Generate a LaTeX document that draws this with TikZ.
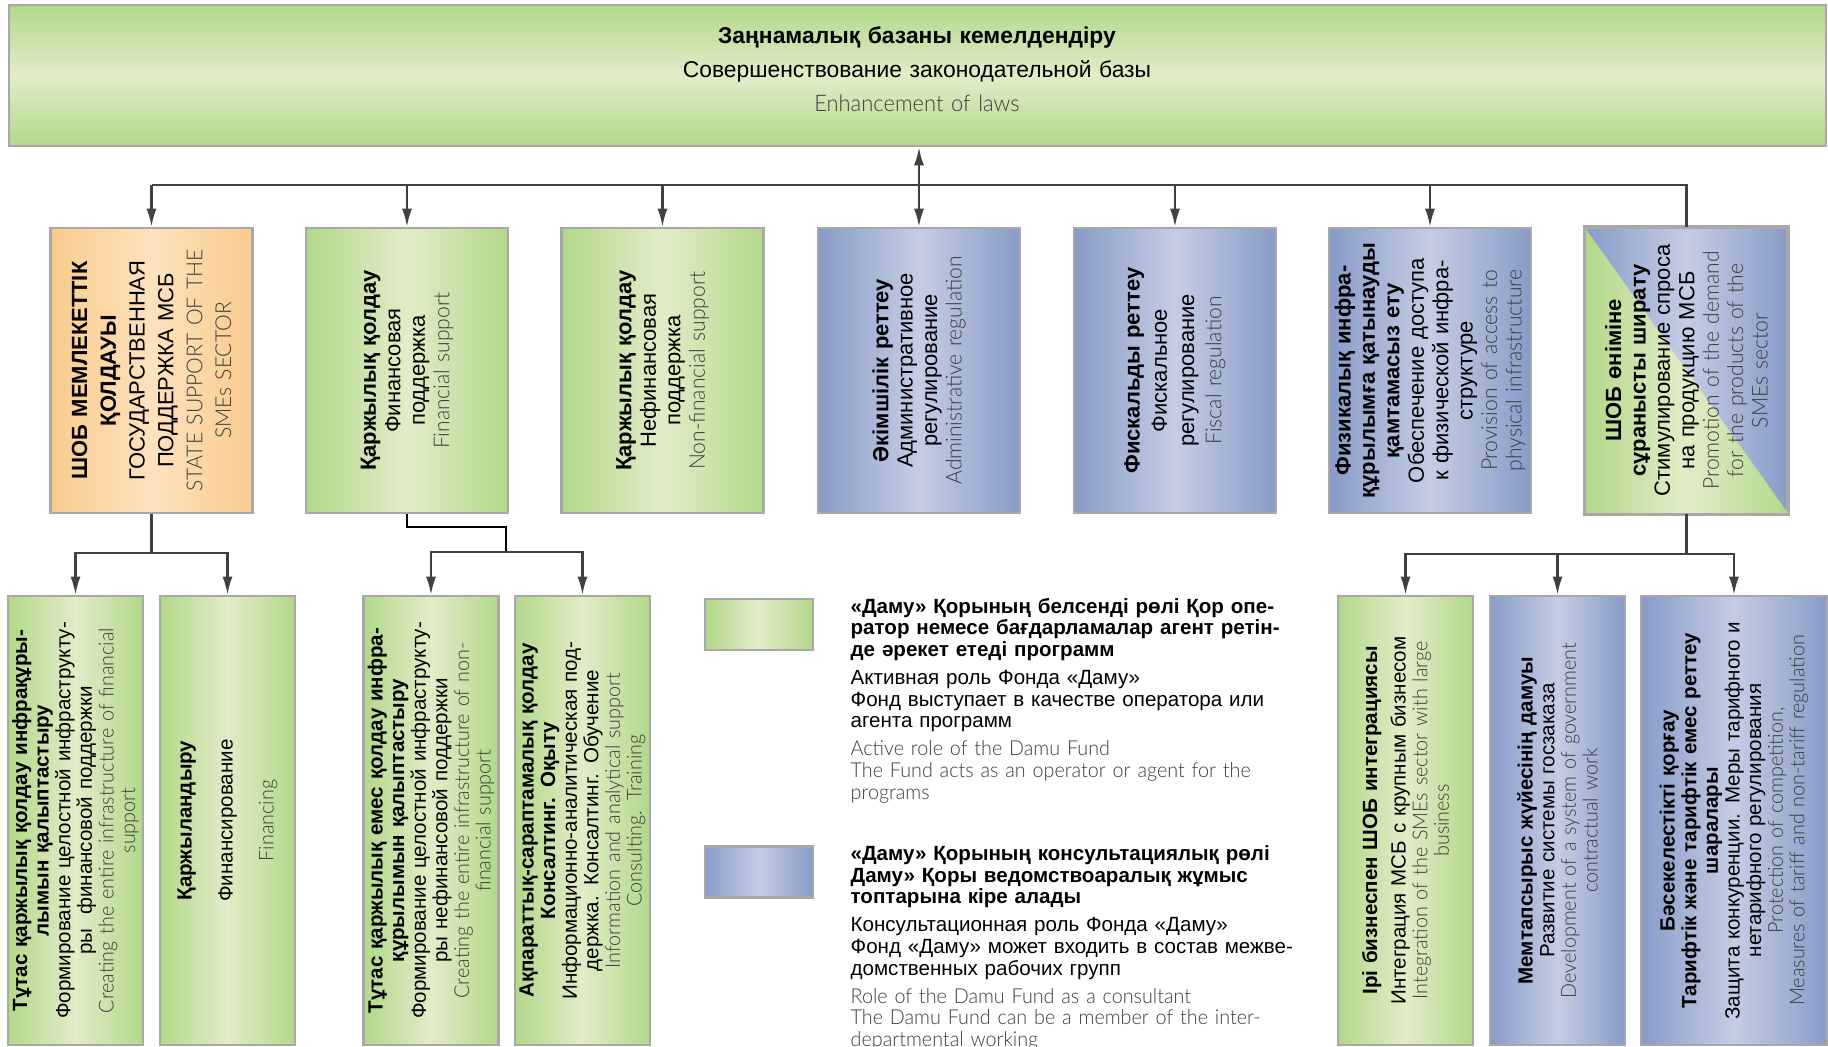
\documentclass[tikz,border=0pt]{standalone}
\usepackage{fontspec}
\setmainfont{Liberation Sans}
\IfFontExistsTF{Lato Light}
  {\newfontfamily\lightfont{Lato Light}[FakeStretch=0.96]}
  {\newfontfamily\lightfont{Liberation Sans}[FakeStretch=0.9]}
\usetikzlibrary{arrows.meta,positioning}

\definecolor{greenE}{RGB}{178,216,138}
\definecolor{greenM}{RGB}{226,236,200}
\definecolor{blueE}{RGB}{136,155,200}
\definecolor{blueM}{RGB}{197,205,228}
\definecolor{orangeE}{RGB}{249,203,140}
\definecolor{orangeM}{RGB}{253,226,190}
\definecolor{frame}{RGB}{168,168,168}
\definecolor{wirecol}{RGB}{64,64,64}
\definecolor{engtext}{RGB}{60,60,60}

\newcommand\ru{\mdseries\color{black}}
\newcommand\eng{\lightfont\mdseries\color{engtext}}

\tikzset{
  box/.style={draw=frame, line width=1.5pt, inner sep=0pt},
  greenbox/.style={box, left color=greenE, right color=greenE, middle color=greenM},
  bluebox/.style={box, left color=blueE, right color=blueE, middle color=blueM},
  orangebox/.style={box, left color=orangeE, right color=orangeE, middle color=orangeM},
  topbox/.style={minimum width=4.04cm, minimum height=5.7cm},
  lowbox/.style={minimum width=2.7cm, minimum height=8.98cm},
  legbox/.style={minimum width=2.16cm, minimum height=1.02cm},
  vtext/.style={rotate=90, align=center, inner sep=0pt, text width=#1},
  bigtext/.style={font=\fontsize{12.5}{13.9}\selectfont},
  smalltext/.style={font=\fontsize{11.7}{12.3}\selectfont},
  wire/.style={draw=wirecol, line width=1.2pt},
  arr/.style={wire, -{Latex[length=0.36cm,width=0.2cm]}},
}

\begin{document}
\begin{tikzpicture}
			%%%%% START %%%%%
			\useasboundingbox (0,0) rectangle (36.56,-20.94);

			\node[box, top color=greenE, bottom color=greenE, middle color=greenM, minimum width=36.34cm, minimum height=2.82cm] (law) at (18.35,-1.51) {};
			\node[align=center, text width=20cm, inner sep=0pt, font=\fontsize{13}{19.3}\selectfont] (lawtext) at (18.34,-1.39)
				{\bfseries Заңнамалық базаны кемелдендіру\\ \ru Совершенствование законодательной базы\\ \eng Enhancement of laws};

			%%%%% upper row %%%%%
			\node[orangebox, topbox] (b1) at (3.03,-7.41) {};
			\node[greenbox, topbox] (b2) at (8.14,-7.41) {};
			\node[greenbox, topbox] (b3) at (13.25,-7.41) {};
			\node[bluebox, topbox] (b4) at (18.38,-7.41) {};
			\node[bluebox, topbox] (b5) at (23.50,-7.41) {};
			\node[bluebox, topbox] (b6) at (28.60,-7.41) {};
			\node[bluebox, topbox] (b7) at (33.73,-7.41) {};
			\shade[left color=greenE, right color=greenE, middle color=greenM] (b7.north west) -- (b7.south west) -- (b7.south east) -- cycle;
			\draw[draw=frame, line width=1.5pt] (b7.south west) rectangle (b7.north east);

			\node[vtext=5.5cm, font=\fontsize{12.5}{16.4}\selectfont] (b1t) at (b1)
				{\bfseries ШОБ МЕМЛЕКЕТТІК\\ҚОЛДАУЫ\\ \ru ГОСУДАРСТВЕННАЯ\\ПОДДЕРЖКА МСБ\\ \eng STATE SUPPORT OF THE\\SMEs SECTOR};
			\node[vtext=5.5cm, bigtext] (b2t) at (b2)
				{\bfseries Қаржылық қолдау\\ \ru Финансовая\\поддержка\\ \eng Financial support};
			\node[vtext=5.5cm, bigtext] (b3t) at (b3)
				{\bfseries Қаржылық қолдау\\ \ru Нефинансовая\\поддержка\\ \eng Non-financial support};
			\node[vtext=5.5cm, bigtext] (b4t) at (b4)
				{\bfseries Әкімшілік реттеу\\ \ru Административное\\регулирование\\ \eng Administrative regulation};
			\node[vtext=5.5cm, font=\fontsize{12.5}{15.5}\selectfont] (b5t) at (b5)
				{\bfseries Фискальды реттеу\\ \ru Фискальное\\регулирование\\ \eng Fiscal regulation};
			\node[vtext=5.6cm, bigtext] (b6t) at (b6)
				{\bfseries Физикалық инфра-\\құрылымға қатынауды\\қамтамасыз ету\\ \ru Обеспечение доступа\\к физической инфра-\\структуре\\ \eng Provision of access to\\physical infrastructure};
			\node[vtext=5.6cm, bigtext] (b7t) at (b7)
				{\bfseries ШОБ өніміне\\сұранысты ширату\\ \ru Стимулирование спроса\\на продукцию МСБ\\ \eng Promotion of the demand\\for the products of the\\SMEs sector};

			%%%%% lower row %%%%%
			\node[greenbox, lowbox] (bA) at (1.51,-16.41) {};
			\node[greenbox, lowbox] (bB) at (4.55,-16.41) {};
			\node[greenbox, lowbox] (bC) at (8.62,-16.41) {};
			\node[greenbox, lowbox] (bD) at (11.65,-16.41) {};
			\node[greenbox, lowbox] (bE) at (28.11,-16.41) {};
			\node[bluebox, lowbox] (bF) at (31.15,-16.41) {};
			\node[bluebox, lowbox, minimum width=3.72cm] (bG) at (34.68,-16.41) {};

			\node[vtext=9.6cm, smalltext] (bAt) at (bA)
				{\bfseries Тұтас қаржылық қолдау инфрақұры-\\лымын қалыптастыру\\ \ru Формирование целостной инфраструкту-\\ры\ \ финансовой поддержки\\ \eng Creating the entire infrastructure of financial\\support};
			\node[vtext=9.6cm, smalltext] (bBt) at (bB)
				{\bfseries Қаржыландыру\\[11pt] \ru Финансирование\\[11pt] \eng Financing};
			\node[vtext=9.6cm, smalltext] (bCt) at (bC)
				{\bfseries Тұтас қаржылық емес қолдау инфра-\\құрылымын қалыптастыру\\ \ru Формирование целостной инфраструкту-\\ры нефинансовой поддержки\\ \eng Creating the entire infrastructure of non-\\financial support};
			\node[vtext=9.6cm, smalltext] (bDt) at (bD)
				{\bfseries Ақпараттық-сараптамалық қолдау\\Консалтинг. Оқыту\\ \ru Информационно-аналитическая под-\\держка. Консалтинг. Обучение\\ \eng Information and analytical support\\Consulting. Training};
			\node[vtext=9.6cm, smalltext] (bEt) at (bE)
				{\bfseries Ірі бизнеспен ШОБ интеграциясы\\[4pt] \ru Интеграция МСБ с крупным бизнесом\\ \eng Integration of the SMEs sector with large\\business};
			\node[vtext=9.6cm, smalltext] (bFt) at (bF)
				{\bfseries Мемтапсырыс жүйесінің дамуы\\ \ru Развитие системы госзаказа\\ \eng Development of a system of government\\contractual work};
			\node[vtext=9.6cm, smalltext] (bGt) at (bG)
				{\bfseries Бәсекелестікті қорғау\\Тарифтік және тарифтік емес реттеу\\шаралары\\ \ru Защита конкуренции. Меры тарифного и\\нетарифного регулирования\\ \eng Protection of competition,\\Measures of tariff and non-tariff regulation};

			%%%%% legend %%%%%
			\node[greenbox, legbox] (leg1) at (15.18,-12.49) {};
			\node[bluebox, legbox] (leg2) at (15.18,-17.44) {};
			\node[anchor=north west, align=left, text width=10cm, inner sep=0pt, smalltext] (leg1t) at ([xshift=0.72cm]leg1.north east)
				{\bfseries «Даму» Қорының белсенді рөлі Қор опе-\\ратор немесе бағдарламалар агент ретін-\\де әрекет етеді программ\\[3.7pt]
				 \ru Активная роль Фонда «Даму»\\Фонд выступает в качестве оператора или\\агента программ\\[3.7pt]
				 \eng Active role of the Damu Fund\\The Fund acts as an operator or agent for the\\programs};
			\node[anchor=north west, align=left, text width=10cm, inner sep=0pt, smalltext] (leg2t) at ([xshift=0.72cm]leg2.north east)
				{\bfseries «Даму» Қорының консультациялық рөлі\\Даму» Қоры ведомствоаралық жұмыс\\топтарына кіре алады\\[3.7pt]
				 \ru Консультационная роль Фонда «Даму»\\Фонд «Даму» может входить в состав межве-\\домственных рабочих групп\\[3.7pt]
				 \eng Role of the Damu Fund as a consultant\\The Damu Fund can be a member of the inter-\\departmental working};

			%%%%% connectors %%%%%
			\coordinate (bus) at (0,-3.70);
			\draw[wire] (b1.north |- bus) -- (b7.north |- bus) -- (b7.north);
			\draw[arr] (b1.north |- bus) -- (b1.north);
			\draw[arr] (b2.north |- bus) -- (b2.north);
			\draw[arr] (b3.north |- bus) -- (b3.north);
			\draw[wire, {Latex[length=0.36cm,width=0.2cm]}-{Latex[length=0.36cm,width=0.2cm]}] (b4.north |- law.south) -- (b4.north);
			\draw[arr] (b5.north |- bus) -- (b5.north);
			\draw[arr] (b6.north |- bus) -- (b6.north);

			\draw[arr] (b1.south) -- ++(0,-0.78) -| (bA.north);
			\draw[arr] (b1.south) -- ++(0,-0.78) -| (bB.north);

			\coordinate (split2) at (10.12,-11.04);
			\draw[line width=1pt] (b2.south) -- ++(0,-0.26) -| (split2);
			\draw[arr] (split2) -| (bC.north);
			\draw[arr] (split2) -| (bD.north);

			\draw[arr] (b7.south) -- ++(0,-0.80) -| (bE.north);
			\draw[arr] (b7.south) -- ++(0,-0.80) -| (bF.north);
			\draw[arr] (b7.south) -- ++(0,-0.80) -| (bG.north);

			%%%%% END %%%%%
\end{tikzpicture}
\end{document}
